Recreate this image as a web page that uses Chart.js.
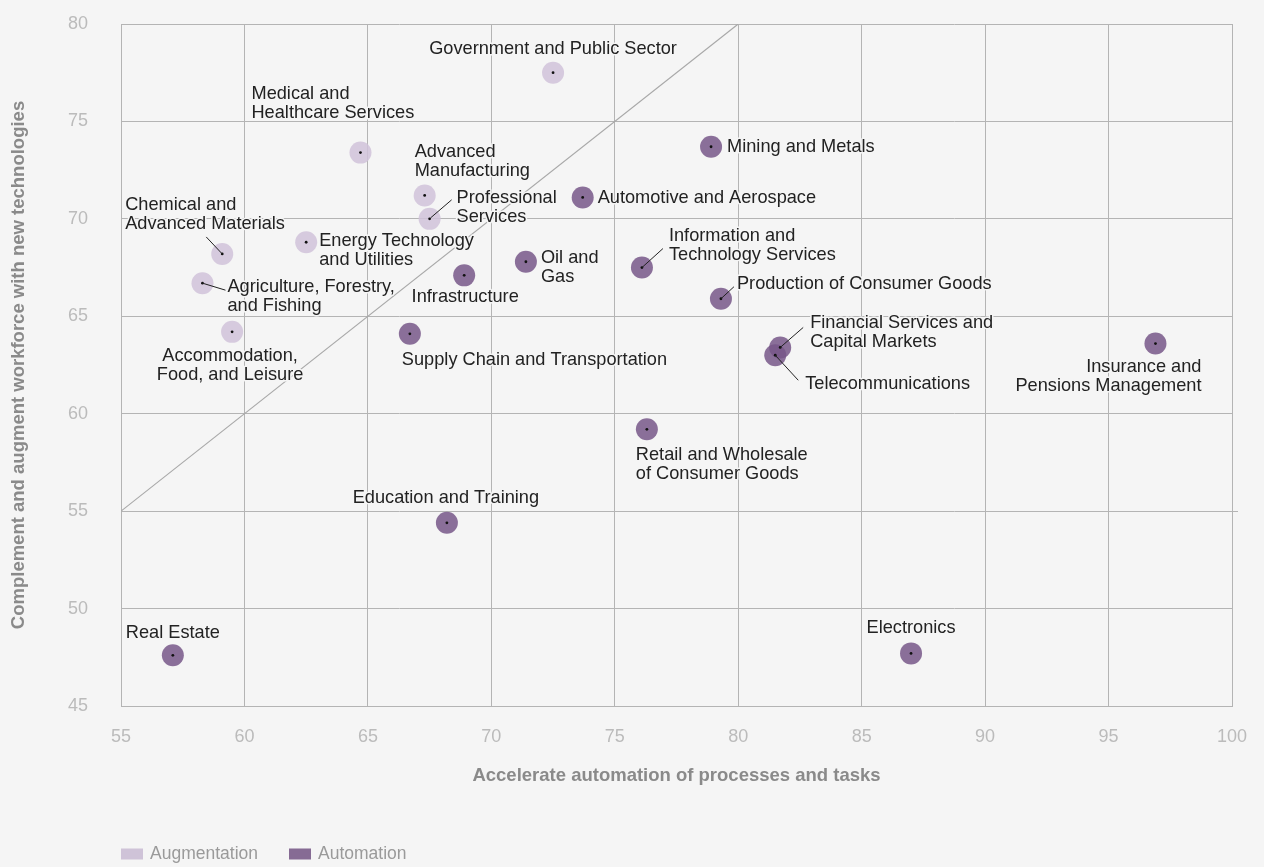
<!DOCTYPE html>
<html>
<head>
<meta charset="utf-8">
<script src="https://cdn.jsdelivr.net/npm/chart.js@4/dist/chart.umd.min.js"></script>
<style>
  html,body{margin:0;padding:0;background:#f5f5f5;}
  #wrap{width:1264px;height:867px;}
</style>
</head>
<body>
<div id="wrap"><canvas id="c" width="1264" height="867"></canvas></div>
<script>
// ---- Data ----
const augmentationNames = [
  "Government and Public Sector",
  "Medical and Healthcare Services",
  "Advanced Manufacturing",
  "Professional Services",
  "Energy Technology and Utilities",
  "Chemical and Advanced Materials",
  "Agriculture, Forestry, and Fishing",
  "Accommodation, Food, and Leisure"
];
const augmentationX = [72.5, 64.7, 67.3, 67.5, 62.5, 59.1, 58.3, 59.5];
const augmentationY = [77.5, 73.4, 71.2, 70.0, 68.8, 68.2, 66.7, 64.2];

const automationNames = [
  "Mining and Metals",
  "Automotive and Aerospace",
  "Oil and Gas",
  "Infrastructure",
  "Information and Technology Services",
  "Production of Consumer Goods",
  "Supply Chain and Transportation",
  "Financial Services and Capital Markets",
  "Telecommunications",
  "Insurance and Pensions Management",
  "Retail and Wholesale of Consumer Goods",
  "Education and Training",
  "Real Estate",
  "Electronics"
];
const automationX = [78.9, 73.7, 71.4, 68.9, 76.1, 79.3, 66.7, 81.7, 81.5, 96.9, 76.3, 68.2, 57.1, 87.0];
const automationY = [73.7, 71.1, 67.8, 67.1, 67.5, 65.9, 64.1, 63.4, 63.0, 63.6, 59.2, 54.4, 47.6, 47.7];

const xTicks = [55, 60, 65, 70, 75, 80, 85, 90, 95, 100];
const yTicks = [45, 50, 55, 60, 65, 70, 75, 80];
const diagonalX = [55, 80];
const diagonalY = [55, 80];

// ---- Label layout (pixel offsets from the point, kept apart from the data) ----
const augLabels = [
  {lines:["Government and Public Sector"], dx:0, dy:-24, align:"center"},
  {lines:["Medical and","Healthcare Services"], dx:-109, dy:-59, align:"left"},
  {lines:["Advanced","Manufacturing"], dx:-10, dy:-43, align:"left"},
  {lines:["Professional","Services"], dx:27, dy:-21, align:"left", leader:[1,-1,22,-19]},
  {lines:["Energy Technology","and Utilities"], dx:13, dy:-1, align:"left"},
  {lines:["Chemical and","Advanced Materials"], dx:-97, dy:-49, align:"left", leader:[0,0,-16,-17]},
  {lines:["Agriculture, Forestry,","and Fishing"], dx:25, dy:4, align:"left", leader:[0,0,23,7]},
  {lines:["Accommodation,","Food, and Leisure"], dx:-2, dy:24, align:"center"}
];
const autLabels = [
  {lines:["Mining and Metals"], dx:16, dy:0, align:"left"},
  {lines:["Automotive and Aerospace"], dx:15, dy:1, align:"left"},
  {lines:["Oil and","Gas"], dx:15, dy:-4, align:"left"},
  {lines:["Infrastructure"], dx:1, dy:22, align:"center"},
  {lines:["Information and","Technology Services"], dx:27, dy:-32, align:"left", leader:[0,0,21,-19]},
  {lines:["Production of Consumer Goods"], dx:16, dy:-15, align:"left", leader:[0,0,13,-12]},
  {lines:["Supply Chain and Transportation"], dx:-8, dy:26, align:"left"},
  {lines:["Financial Services and","Capital Markets"], dx:30, dy:-24, align:"left", leader:[0,0,23,-20]},
  {lines:["Telecommunications"], dx:30, dy:29, align:"left", leader:[0,0,23,25]},
  {lines:["Insurance and","Pensions Management"], dx:46, dy:23, align:"right"},
  {lines:["Retail and Wholesale","of Consumer Goods"], dx:-11, dy:26, align:"left"},
  {lines:["Education and Training"], dx:-1, dy:-25, align:"center"},
  {lines:["Real Estate"], dx:0, dy:-22, align:"center"},
  {lines:["Electronics"], dx:0, dy:-25, align:"center"}
];

const BG = "#f5f5f5";
const GRID = "#b4b4b4";
const FONT = "'Liberation Sans', Arial, Helvetica, sans-serif";
const augColor = "rgba(208,194,217,0.85)";
const autColor = "rgba(119,87,136,0.85)";
const augLegend = "#cfc3d8";
const autLegend = "#866b94";

const augData = augmentationX.map((x,i)=>({x:x, y:augmentationY[i], name:augmentationNames[i]}));
const autData = automationX.map((x,i)=>({x:x, y:automationY[i], name:automationNames[i]}));
const diagData = diagonalX.map((x,i)=>({x:x, y:diagonalY[i]}));

const bgPlugin = {
  id:"bg",
  beforeDraw(chart){
    const ctx = chart.ctx;
    ctx.save();
    ctx.fillStyle = BG;
    ctx.fillRect(0,0,chart.width,chart.height);
    ctx.restore();
  }
};

const overlayPlugin = {
  id:"overlay",
  afterDatasetsDraw(chart){
    const ctx = chart.ctx;
    const ys = chart.scales.y;
    ctx.save();
    ctx.strokeStyle = GRID; ctx.lineWidth = 1;
    const y55 = Math.round(ys.getPixelForValue(55)) + 0.5;
    ctx.beginPath(); ctx.moveTo(chart.chartArea.right, y55); ctx.lineTo(chart.chartArea.right + 6, y55); ctx.stroke();
    ctx.restore();

    const sets = [[1, augLabels],[2, autLabels]];
    ctx.save();
    ctx.font = "18.2px " + FONT;
    ctx.textBaseline = "middle";
    sets.forEach(([di, labels])=>{
      const meta = chart.getDatasetMeta(di);
      meta.data.forEach((pt, i)=>{
        const L = labels[i];
        const px = pt.x, py = pt.y;
        ctx.fillStyle = "#111";
        ctx.beginPath(); ctx.arc(px, py, 1.4, 0, Math.PI*2); ctx.fill();
        if (L.leader){
          ctx.strokeStyle = "#222"; ctx.lineWidth = 1;
          ctx.beginPath();
          ctx.moveTo(px + L.leader[0], py + L.leader[1]);
          ctx.lineTo(px + L.leader[2], py + L.leader[3]);
          ctx.stroke();
        }
        ctx.textAlign = L.align;
        L.lines.forEach((t, k)=>{
          const tx = px + L.dx, ty = py + L.dy + k*19;
          ctx.lineWidth = 3; ctx.strokeStyle = BG; ctx.lineJoin = "round";
          ctx.strokeText(t, tx, ty);
          ctx.fillStyle = "#222";
          ctx.fillText(t, tx, ty);
        });
      });
    });
    ctx.restore();

    // legend
    ctx.save();
    ctx.font = "17.5px " + FONT;
    ctx.textBaseline = "middle";
    ctx.textAlign = "left";
    const ly = 854;
    ctx.fillStyle = augLegend; ctx.fillRect(121, ly-5.5, 22, 11);
    ctx.fillStyle = "#9a9a9a"; ctx.fillText(chart.data.datasets[1].label, 150, ly);
    ctx.fillStyle = autLegend; ctx.fillRect(289, ly-5.5, 22, 11);
    ctx.fillStyle = "#9a9a9a"; ctx.fillText(chart.data.datasets[2].label, 318, ly);
    ctx.restore();
  }
};

new Chart(document.getElementById("c"), {
  type: "scatter",
  data: {
    datasets: [
      {type:"line", label:"Diagonal", data: diagData, borderColor:"#a8a8a8", borderWidth:1.2, pointRadius:0, fill:false, order:3},
      {label:"Augmentation", data: augData, backgroundColor: augColor, borderWidth:0, pointRadius:11, pointHoverRadius:11, order:2},
      {label:"Automation", data: autData, backgroundColor: autColor, borderWidth:0, pointRadius:11, pointHoverRadius:11, order:1}
    ]
  },
  options: {
    responsive:false,
    animation:false,
    events:[],
    layout:{padding:{left:0, right:32, top:24, bottom:0}},
    plugins:{legend:{display:false}, tooltip:{enabled:false}},
    scales:{
      x:{
        type:"linear", min:55, max:100,
        afterBuildTicks(s){ s.ticks = xTicks.map(v=>({value:v})); },
        afterFit(s){ s.height = 867 - 706; },
        grid:{color:GRID, lineWidth:1, drawTicks:true, tickLength:20, tickColor:"rgba(0,0,0,0)"},
        border:{color:GRID, width:1},
        ticks:{color:"#bbbbbb", font:{family:FONT, size:18}, padding:0, maxRotation:0},
        title:{display:true, text:"Accelerate automation of processes and tasks", color:"#8a8a8a",
               font:{family:FONT, size:18.5, weight:"bold"}, padding:{top:0, bottom:80}}
      },
      y:{
        type:"linear", min:45, max:80,
        afterBuildTicks(s){ s.ticks = yTicks.map(v=>({value:v})); },
        afterFit(s){ s.width = 121; },
        grid:{color:GRID, lineWidth:1, drawTicks:true, tickLength:33, tickColor:"rgba(0,0,0,0)"},
        border:{color:GRID, width:1},
        ticks:{color:"#bbbbbb", font:{family:FONT, size:18}, padding:0},
        title:{display:true, text:"Complement and augment workforce with new technologies", color:"#8a8a8a",
               font:{family:FONT, size:18.5, weight:"bold"}, padding:{top:8, bottom:0}}
      }
    }
  },
  plugins:[bgPlugin, overlayPlugin]
});
</script>
</body>
</html>
